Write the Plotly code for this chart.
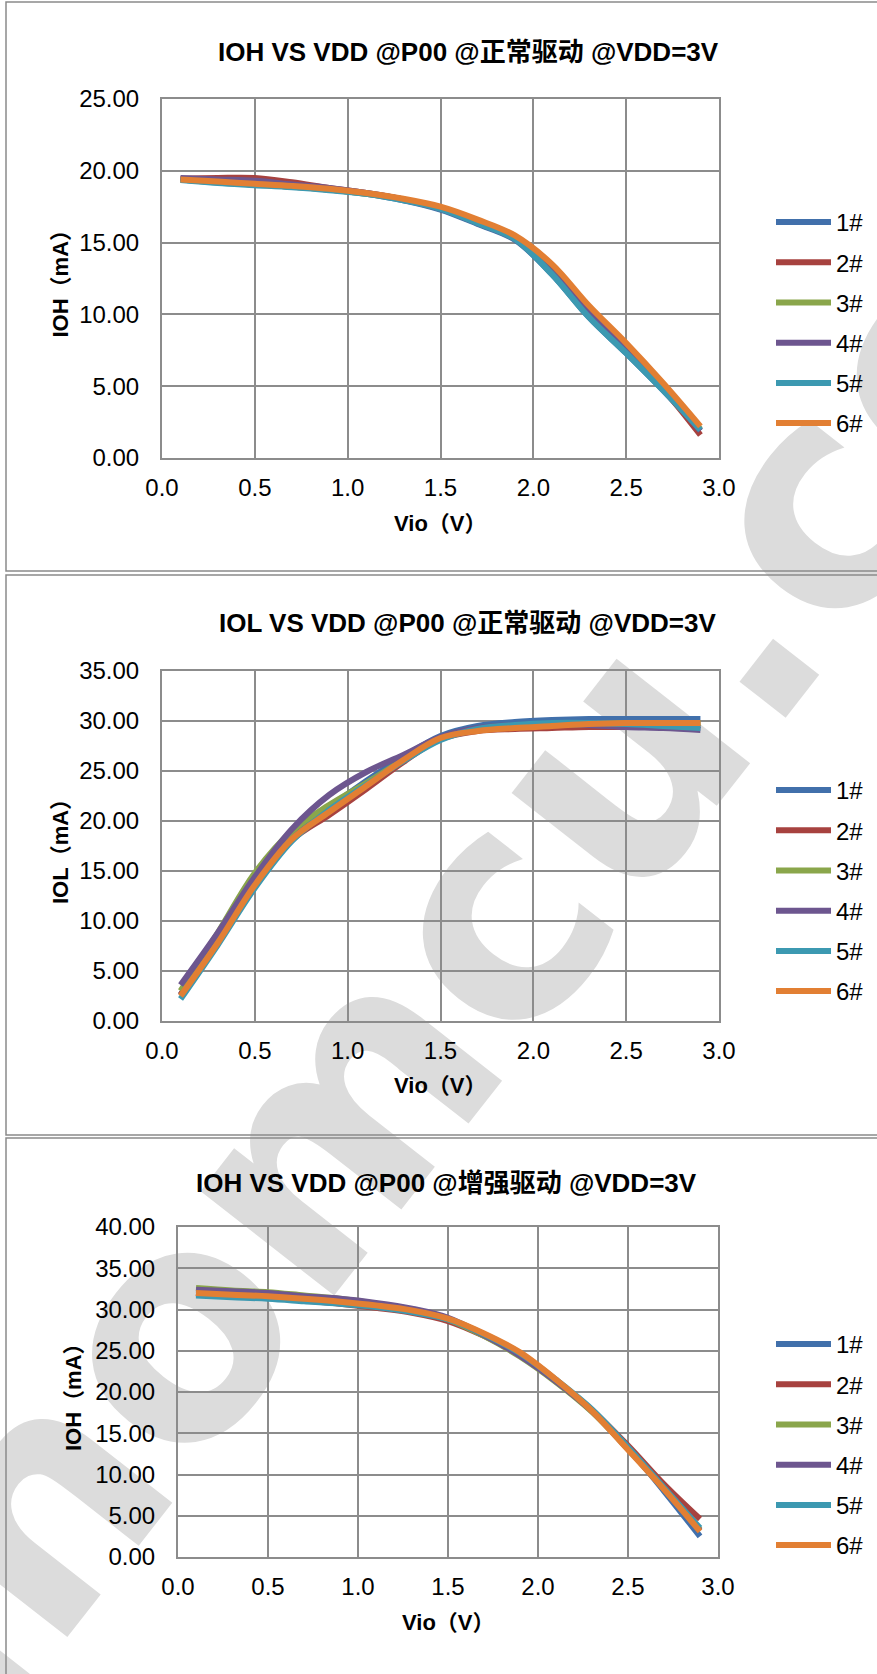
import plotly.graph_objects as go

W, H = 877, 1674

vio = [0.1, 0.3, 0.5, 0.7, 0.9, 1.1, 1.3, 1.5, 1.7, 1.9, 2.1, 2.3, 2.5, 2.7, 2.9]
names = ["1#", "2#", "3#", "4#", "5#", "6#"]
colors = ["#4170ab", "#a7423f", "#8aa64b", "#6d568f", "#3c99b1", "#e27f33"]

# IOH, normal drive
ioh_n_1 = [19.4, 19.2, 19.05, 18.9, 18.7, 18.4, 17.95, 17.3, 16.3, 15.2, 12.8, 9.8, 7.3, 4.7, 1.9]
ioh_n_2 = [19.45, 19.5, 19.5, 19.2, 18.8, 18.45, 18.0, 17.4, 16.45, 15.4, 13.1, 10.3, 7.6, 4.8, 1.6]
ioh_n_3 = [19.4, 19.2, 19.05, 18.9, 18.7, 18.4, 18.0, 17.4, 16.4, 15.3, 12.9, 10.0, 7.4, 4.8, 2.0]
ioh_n_4 = [19.5, 19.4, 19.3, 19.05, 18.8, 18.45, 18.0, 17.35, 16.35, 15.25, 12.9, 10.1, 7.5, 4.9, 1.9]
ioh_n_5 = [19.35, 19.15, 19.0, 18.85, 18.65, 18.4, 17.95, 17.35, 16.35, 15.25, 12.8, 9.8, 7.3, 4.7, 1.95]
ioh_n_6 = [19.4, 19.25, 19.1, 18.95, 18.75, 18.45, 18.05, 17.5, 16.6, 15.5, 13.5, 10.6, 8.0, 5.2, 2.2]

# IOL, normal drive
iol_n_1 = [2.6, 8.2, 13.6, 18.3, 21.3, 24.0, 26.4, 28.5, 29.5, 29.9, 30.1, 30.2, 30.2, 30.2, 30.2]
iol_n_2 = [2.6, 8.0, 13.5, 18.1, 20.6, 23.2, 25.9, 28.2, 29.0, 29.2, 29.3, 29.4, 29.4, 29.5, 29.6]
iol_n_3 = [3.0, 8.8, 14.8, 19.0, 21.6, 23.8, 26.1, 28.3, 29.2, 29.5, 29.6, 29.7, 29.8, 29.8, 29.8]
iol_n_4 = [3.6, 8.8, 14.4, 19.2, 22.6, 24.9, 26.6, 28.4, 29.3, 29.6, 29.7, 29.6, 29.4, 29.3, 29.1]
iol_n_5 = [2.2, 7.6, 13.3, 18.0, 21.1, 23.6, 26.0, 28.1, 29.2, 29.6, 29.8, 29.8, 29.7, 29.5, 29.3]
iol_n_6 = [2.5, 7.8, 13.6, 18.2, 20.9, 23.5, 26.1, 28.3, 29.0, 29.3, 29.5, 29.7, 29.8, 29.8, 29.8]

# IOH, enhanced drive
ioh_e_1 = [31.9, 31.7, 31.5, 31.2, 30.9, 30.4, 29.8, 28.8, 27.0, 24.6, 21.4, 17.7, 13.2, 8.0, 2.5]
ioh_e_2 = [32.0, 31.7, 31.5, 31.1, 30.7, 30.2, 29.6, 28.6, 26.8, 24.5, 21.3, 17.8, 13.5, 8.8, 4.6]
ioh_e_3 = [32.6, 32.3, 32.1, 31.7, 31.3, 30.7, 29.9, 28.8, 26.8, 24.3, 21.2, 17.6, 13.1, 8.3, 3.3]
ioh_e_4 = [32.4, 32.2, 32.0, 31.6, 31.3, 30.8, 30.1, 29.0, 26.9, 24.4, 21.3, 17.7, 13.1, 8.3, 3.2]
ioh_e_5 = [31.7, 31.5, 31.3, 31.0, 30.7, 30.3, 29.7, 28.8, 27.0, 24.7, 21.5, 17.9, 13.3, 8.4, 3.5]
ioh_e_6 = [32.0, 31.8, 31.6, 31.3, 30.95, 30.5, 29.9, 28.9, 27.1, 24.8, 21.5, 17.7, 13.0, 8.2, 3.1]

x_ticks = [0.0, 0.5, 1.0, 1.5, 2.0, 2.5, 3.0]

titles = ["IOH VS VDD @P00 @正常驱动 @VDD=3V",
          "IOL VS VDD @P00 @正常驱动 @VDD=3V",
          "IOH VS VDD @P00 @增强驱动 @VDD=3V"]
y_titles = ["IOH（mA）", "IOL（mA）", "IOH（mA）"]
x_title = "Vio（V）"
y_max = [25, 35, 40]

panels = [
    [ioh_n_1, ioh_n_2, ioh_n_3, ioh_n_4, ioh_n_5, ioh_n_6],
    [iol_n_1, iol_n_2, iol_n_3, iol_n_4, iol_n_5, iol_n_6],
    [ioh_e_1, ioh_e_2, ioh_e_3, ioh_e_4, ioh_e_5, ioh_e_6],
]

# pixel boxes (left, right, top, bottom) of each plot area
boxes = [(162, 719, 99, 458), (162, 719, 671, 1021), (178, 718, 1227, 1557)]
frames = [(2, 571), (575, 1135), (1138, 1710)]
title_pos = [(469, 52), (467, 623), (446, 1183)]
xtitle_y = [523, 1085, 1622]
ytitle_x = [60, 60, 73]
legend_top = [200, 768, 1322]

FONT = "Liberation Sans, Arial, Noto Sans CJK SC"
GRID = "#8c8c8c"


def fx(px):
    return px / W


def fy(py):
    return 1 - py / H


fig = go.Figure()
layout = dict(width=W, height=H,
              margin=dict(l=0, r=0, t=0, b=0, pad=0, autoexpand=False),
              paper_bgcolor="white", plot_bgcolor="rgba(0,0,0,0)",
              font=dict(family=FONT, size=22, color="black"),
              shapes=[], annotations=[])

for i, series in enumerate(panels):
    n = "" if i == 0 else str(i + 1)
    leg = "legend" + n
    for k, ys in enumerate(series):
        fig.add_trace(go.Scatter(
            x=vio, y=ys, name=names[k], mode="lines",
            line=dict(color=colors[k], width=6, shape="spline", smoothing=1.0),
            xaxis="x" + n, yaxis="y" + n, legend=leg,
            legendgroup=f"p{i}_{k}", showlegend=True))
    l, r, t, b = boxes[i]
    layout["xaxis" + n] = dict(
        domain=[fx(l), fx(r)], anchor="y" + n, range=[0, 3], tickvals=x_ticks,
        tickformat=".1f", showgrid=True, gridcolor=GRID, gridwidth=2,
        showline=True, mirror=True, linecolor=GRID, linewidth=2, zeroline=False,
        ticks="", ticklabelstandoff=7, tickfont=dict(size=24))
    layout["yaxis" + n] = dict(
        domain=[fy(b), fy(t)], anchor="x" + n, range=[0, y_max[i]], dtick=5,
        tickformat=".2f", showgrid=True, gridcolor=GRID, gridwidth=2,
        showline=True, mirror=True, linecolor=GRID, linewidth=2, zeroline=False,
        ticks="", ticklabelstandoff=16, tickfont=dict(size=24))
    layout[leg] = dict(x=fx(771), y=fy(legend_top[i]), xanchor="left", yanchor="top",
                       font=dict(size=24), tracegroupgap=6, traceorder="grouped",
                       itemwidth=55, bgcolor="rgba(0,0,0,0)", borderwidth=0)
    layout["shapes"].append(dict(type="rect", xref="paper", yref="paper",
                                 x0=fx(6), x1=1.05, y0=fy(frames[i][1]), y1=fy(frames[i][0]),
                                 line=dict(color="#8a8a8a", width=1.5)))
    tx, ty = title_pos[i]
    layout["annotations"].append(dict(
        text=f"<b>{titles[i]}</b>", x=fx(tx), y=fy(ty), xref="paper", yref="paper",
        xanchor="center", yanchor="middle", showarrow=False, font=dict(size=26)))
    layout["annotations"].append(dict(
        text=f"<b>{x_title}</b>", x=fx((l + r) / 2), y=fy(xtitle_y[i]), xref="paper",
        yref="paper", xanchor="center", yanchor="middle", showarrow=False,
        font=dict(size=22)))
    layout["annotations"].append(dict(
        text=f"<b>{y_titles[i]}</b>", x=fx(ytitle_x[i]), y=fy((t + b) / 2), xref="paper",
        yref="paper", xanchor="center", yanchor="middle", showarrow=False,
        textangle=-90, font=dict(size=22)))

# watermark, behind the charts
layout["shapes"].append(dict(
    type="rect", xref="paper", yref="paper", layer="below",
    x0=fx(465), x1=fx(485), y0=fy(915), y1=fy(895),
    line=dict(width=0), fillcolor="rgba(0,0,0,0)",
    label=dict(text="sinomcu.com", textangle=-52, textposition="middle center",
               font=dict(family="DejaVu Sans", size=310, color="#dcdcdc", weight="bold"))))

fig.update_layout(**layout)
# the page body has a default 8px margin; drop it so the figure sits at 0,0
fig.write_html("out.html", config={"displayModeBar": False},
               post_script="document.body.style.margin='0px';")
